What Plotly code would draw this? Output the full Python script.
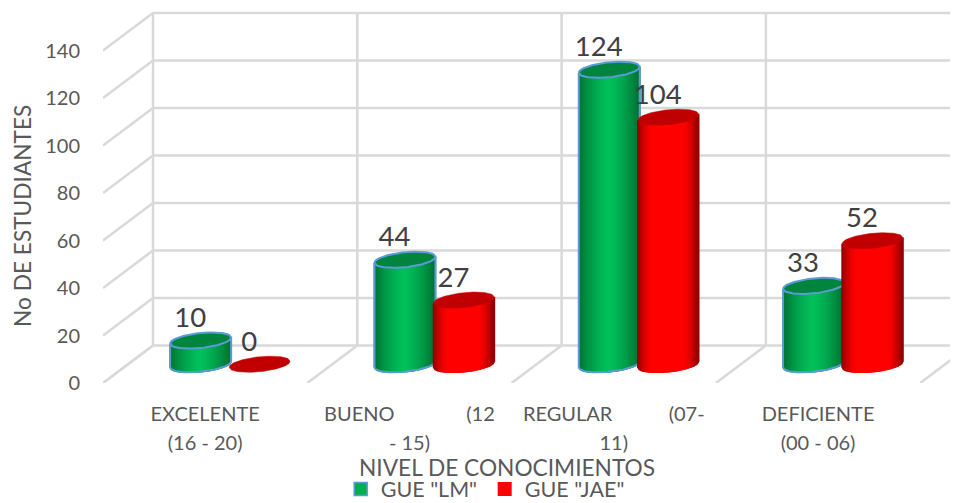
import math
import plotly.graph_objects as go

categories = ["EXCELENTE", "BUENO", "REGULAR", "DEFICIENTE"]
tick_lines = [
    ("EXCELENTE", "(16 - 20)"),
    ("BUENO\u00a0\u00a0\u00a0\u00a0\u00a0\u00a0\u00a0\u00a0\u00a0\u00a0\u00a0\u00a0\u00a0\u00a0(12", "- 15)"),
    ("REGULAR\u00a0\u00a0\u00a0\u00a0\u00a0\u00a0\u00a0\u00a0\u00a0\u00a0\u00a0(07-", "11)"),
    ("DEFICIENTE", "(00 - 06)"),
]
values_lm = [10, 44, 124, 33]
values_jae = [0, 27, 104, 52]
y_ticks = [0, 20, 40, 60, 80, 100, 120, 140]

FONT = "Lato"
GRID = "#D9D9D9"
TEXT = "#595959"

# the page puts the figure 8px in from the corner
PAGE = 8
PLOT_W = 958 - 103
PLOT_H = 383 - PAGE

# fake 3d: depth 0 is the front plane, depth 1 the back wall
PX_X = 204.3
PX_Y = 2.375
DEPTH_X = 50 / PX_X
DEPTH_Y = 37.5 / PX_Y
HALF_W = 30.5 / PX_X
OFFSET = 29.5 / PX_X
TILT = 3 / PX_Y
MINOR = 7.5 / PX_Y
STRIPS = 40


def mix(a, b, t):
    return "rgb(%d,%d,%d)" % tuple(round(a[i] + (b[i] - a[i]) * t) for i in range(3))


def green_at(u):
    return mix((0, 192, 90), (0, 112, 52), abs(u) ** 1.4)


def red_at(u):
    return mix((255, 0, 0), (140, 0, 0), max(0, (abs(u) - 0.5) / 0.5) ** 1.6)


def ring(cx, v, u, front=True):
    sign = -1 if front else 1
    return cx + HALF_W * u, v + TILT * u + sign * MINOR * math.sqrt(max(0, 1 - u * u))


def cylinder(fig, cx, value, shade, top_color, outline=None):
    base = DEPTH_Y * 0.5
    top = base + value
    if value > 0:
        for j in range(STRIPS):
            u0 = -1 + 2 * j / STRIPS
            u1 = -1 + 2 * (j + 1) / STRIPS
            x0, y0 = ring(cx, top, u0)
            x1, y1 = ring(cx, top, u1)
            x2, y2 = ring(cx, base, u1)
            x3, y3 = ring(cx, base, u0)
            c = shade((u0 + u1) / 2)
            fig.add_trace(go.Scatter(x=[x0, x1, x2, x3, x0], y=[y0, y1, y2, y3, y0], mode="lines",
                                     fill="toself", fillcolor=c, line=dict(color=c, width=1.5),
                                     showlegend=False, hoverinfo="skip"))
    us = [-1 + 2 * j / 60 for j in range(61)]
    cap = [ring(cx, top, u) for u in us] + [ring(cx, top, u, False) for u in reversed(us)]
    fig.add_trace(go.Scatter(x=[p[0] for p in cap], y=[p[1] for p in cap], mode="lines",
                             fill="toself", fillcolor=top_color,
                             line=dict(color=outline or top_color, width=2 if outline else 0.5),
                             showlegend=False, hoverinfo="skip"))
    if outline and value > 0:
        edge = [ring(cx, top, -1)] + [ring(cx, base, u) for u in us] + [ring(cx, top, 1)]
        fig.add_trace(go.Scatter(x=[p[0] for p in edge], y=[p[1] for p in edge], mode="lines",
                                 line=dict(color=outline, width=2),
                                 showlegend=False, hoverinfo="skip"))


fig = go.Figure()

# walls and floor
n = len(categories)
right = PLOT_W / PX_X
grid_x, grid_y = [], []
for t in y_ticks:
    grid_x += [0, DEPTH_X, right, None]
    grid_y += [t, t + DEPTH_Y, t + DEPTH_Y, None]
for i in range(n + 1):
    grid_x += [i + DEPTH_X, i + DEPTH_X, None, i, i + DEPTH_X, None]
    grid_y += [DEPTH_Y, y_ticks[-1] + DEPTH_Y, None, 0, DEPTH_Y, None]
fig.add_trace(go.Scatter(x=grid_x, y=grid_y, mode="lines", line=dict(color=GRID, width=2.5),
                         showlegend=False, hoverinfo="skip"))

label_x, label_y, label_text = [], [], []
for i in range(n):
    mid = i + 0.5 + DEPTH_X / 2
    cylinder(fig, mid - OFFSET, values_lm[i], green_at, "#00843E", "#5B9BD5")
    cylinder(fig, mid + OFFSET, values_jae[i], red_at, "#C00000")
    for cx, v in ((mid - OFFSET, values_lm[i]), (mid + OFFSET, values_jae[i])):
        label_x.append(cx - 10.5 / PX_X)
        label_y.append(v + DEPTH_Y / 2 + 20.5 / PX_Y)
        label_text.append(str(v))

fig.add_trace(go.Scatter(x=label_x, y=label_y, text=label_text, mode="text",
                         textposition="middle center", cliponaxis=False,
                         textfont=dict(family=FONT, size=27.5, color="#404040"),
                         showlegend=False, hoverinfo="skip"))

# legend only
fig.add_trace(go.Scatter(x=[None], y=[None], mode="markers", name='GUE "LM"',
                         marker=dict(symbol="square", size=13, color="#00B050",
                                     line=dict(color="#5B9BD5", width=1.5))))
fig.add_trace(go.Scatter(x=[None], y=[None], mode="markers", name='GUE "JAE"',
                         marker=dict(symbol="square", size=14, color="#FF0000")))

fig.update_layout(
    width=958 - PAGE, height=503 - PAGE,
    margin=dict(l=103 - PAGE, r=0, t=0, b=120, autoexpand=False),
    paper_bgcolor="white", plot_bgcolor="white",
    font=dict(family=FONT, color=TEXT),
    showlegend=True,
    legend=dict(orientation="h", x=0.278, y=-(489 - 383) / PLOT_H, xanchor="left", yanchor="middle",
                font=dict(size=21.5, color=TEXT), bgcolor="rgba(0,0,0,0)",
                traceorder="normal", entrywidth=99, entrywidthmode="pixels"),
    xaxis=dict(range=[0, right], tickmode="array", tickvals=[i + 0.5 for i in range(n)],
               ticktext=['<span style="font-size:20px">%s<br>%s</span>' % t for t in tick_lines],
               tickangle=0, tickfont=dict(size=22.3, color=TEXT, family=FONT),
               showgrid=False, zeroline=False, showline=False,
               ticks="outside", ticklen=10, tickcolor="rgba(0,0,0,0)"),
    yaxis=dict(range=[0, PLOT_H / PX_Y], tickmode="array", tickvals=y_ticks,
               tickfont=dict(size=20, color=TEXT, family=FONT),
               showgrid=False, zeroline=False, showline=False,
               ticks="outside", ticklen=18, tickcolor="rgba(0,0,0,0)"),
    annotations=[
        dict(text="NIVEL DE CONOCIMIENTOS", xref="paper", yref="paper", x=(507 - 103) / PLOT_W,
             y=-(468 - 383) / PLOT_H, xanchor="center", yanchor="middle", showarrow=False,
             font=dict(size=22.7, color=TEXT, family=FONT)),
        dict(text="No DE ESTUDIANTES", xref="paper", yref="paper", x=-(103 - 22) / PLOT_W,
             y=(383 - 216) / PLOT_H, xanchor="center", yanchor="middle", showarrow=False, textangle=-90,
             font=dict(size=22.7, color=TEXT, family=FONT)),
    ],
)

fig.write_html("out.html")
